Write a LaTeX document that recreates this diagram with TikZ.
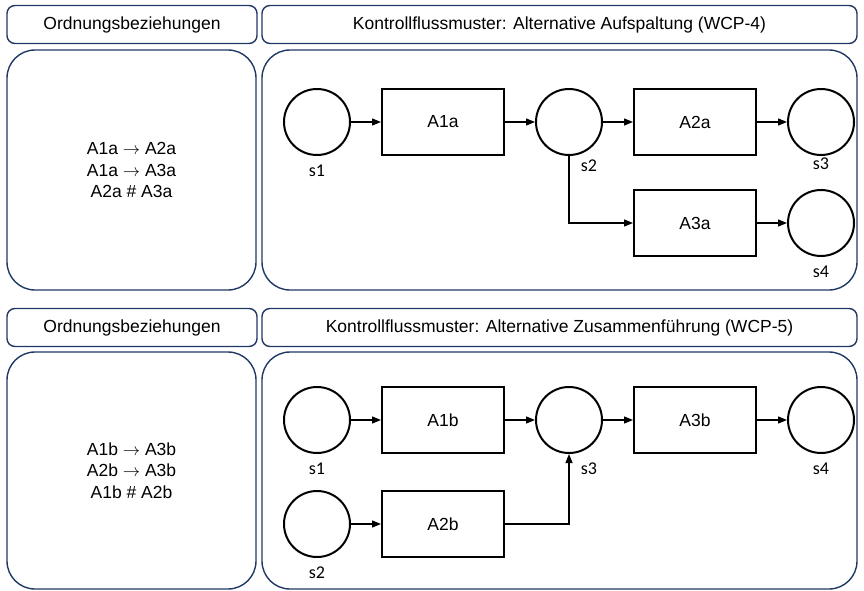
\documentclass[tikz,border=0pt]{standalone}
\usepackage{fontspec}
\setmainfont{Liberation Sans}
\newfontfamily\lblfont{Carlito}
\usetikzlibrary{arrows.meta, positioning}
\definecolor{navy}{HTML}{203864}

\begin{document}
\begin{tikzpicture}[
  x=1pt, y=-1pt,
  node distance=33pt and 30pt,
  font=\fontsize{17.5}{21.5}\selectfont,
  hnode/.style={rectangle, draw=navy, line width=1.4pt, rounded corners=8pt,
                minimum height=38pt, align=center},
  bnode/.style={rectangle, draw=navy, line width=1.4pt, rounded corners=28pt,
                align=center},
  pnode/.style={circle, draw, line width=2pt, minimum size=66pt, inner sep=0pt},
  tnode/.style={rectangle, draw, line width=2pt, minimum width=122pt,
                minimum height=66pt},
  lbl/.style={font=\lblfont\fontsize{18}{21}\selectfont, inner sep=1pt},
  label distance=8pt,
  arrow/.style={-{Triangle[length=9pt, width=7pt]}, line width=1.3pt},
]
\useasboundingbox (0,0) rectangle (864,591);

% ---- Rahmen oben ----
\node[hnode, minimum width=250pt] (hordA) at (132,24.5) {Ordnungsbeziehungen};
\node[hnode, minimum width=595pt] (hkfmA) at (559.5,24.5)
  {Kontrollflussmuster: Alternative Aufspaltung (WCP-4)};
\node[bnode, minimum width=249pt, minimum height=240pt] (pordA) at (131.5,170)
  {A1a $\rightarrow$ A2a\\A1a $\rightarrow$ A3a\\A2a \# A3a};
\node[bnode, minimum width=595pt, minimum height=240pt] (pkfmA) at (559.5,170) {};

% ---- Rahmen unten ----
\node[hnode, minimum width=250pt] (hordB) at (132,327.5) {Ordnungsbeziehungen};
\node[hnode, minimum width=595pt] (hkfmB) at (559.5,327.5)
  {Kontrollflussmuster: Alternative Zusammenführung (WCP-5)};
\node[bnode, minimum width=249pt, minimum height=237pt] (pordB) at (131.5,470.5)
  {A1b $\rightarrow$ A3b\\A2b $\rightarrow$ A3b\\A1b \# A2b};
\node[bnode, minimum width=595pt, minimum height=237pt] (pkfmB) at (559.5,470.5) {};

% ---- WCP-4 ----
\node[pnode, label={[lbl]below:s1}] (s1a) at (317,122) {};
\node[tnode, right=of s1a] (A1a) {A1a};
\node[pnode, right=of A1a, label={[lbl, xshift=20pt, yshift=5pt]below:s2}] (s2a) {};
\node[tnode, right=of s2a] (A2a) {A2a};
\node[pnode, right=of A2a, label={[lbl, yshift=7pt]below:s3}] (s3a) {};
\node[tnode, below=of A2a] (A3a) {A3a};
\node[pnode, right=of A3a, label={[lbl]below:s4}] (s4a) {};

\draw[arrow] (s1a) -- (A1a);
\draw[arrow] (A1a) -- (s2a);
\draw[arrow] (s2a) -- (A2a);
\draw[arrow] (A2a) -- (s3a);
\draw[arrow] (s2a) |- (A3a);
\draw[arrow] (A3a) -- (s4a);

% ---- WCP-5 ----
\node[pnode, label={[lbl]below:s1}] (s1b) at (317,420) {};
\node[tnode, right=of s1b] (A1b) {A1b};
\node[pnode, right=of A1b, label={[lbl, xshift=20pt]below:s3}] (s3b) {};
\node[tnode, right=of s3b] (A3b) {A3b};
\node[pnode, right=of A3b, label={[lbl]below:s4}] (s4b) {};
\node[pnode, below=36pt of s1b, label={[lbl]below:s2}] (s2b) {};
\node[tnode, right=of s2b] (A2b) {A2b};

\draw[arrow] (s1b) -- (A1b);
\draw[arrow] (A1b) -- (s3b);
\draw[arrow] (s3b) -- (A3b);
\draw[arrow] (A3b) -- (s4b);
\draw[arrow] (s2b) -- (A2b);
\draw[arrow] (A2b) -| (s3b);

\end{tikzpicture}
\end{document}
